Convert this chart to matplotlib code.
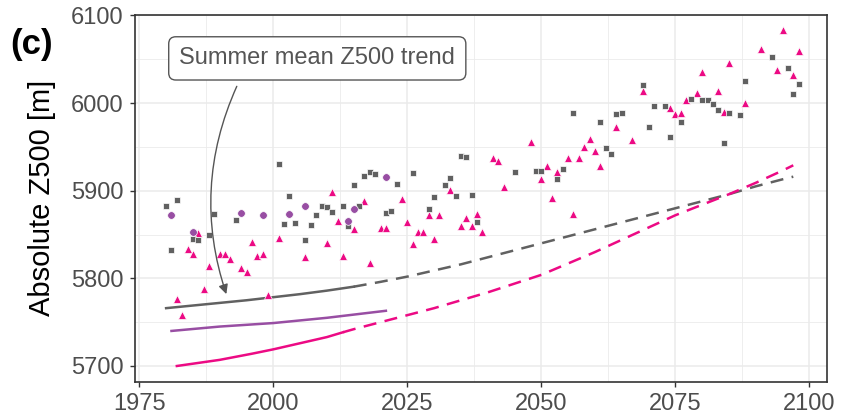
import matplotlib
matplotlib.use("Agg")
import matplotlib.pyplot as plt
from matplotlib.ticker import MultipleLocator

plt.rcParams["font.family"] = ["Liberation Sans", "DejaVu Sans"]

GREY = "#616161"
PINK = "#EC0A84"
PURPLE = "#984EA3"

# yearly summer mean Z500 (points)
grey_years = [1980, 1981, 1982, 1985, 1986, 1988, 1989, 1993, 2001, 2002, 2003,
              2004, 2006, 2007, 2008, 2009, 2010, 2011, 2013, 2014, 2015, 2016,
              2017, 2018, 2019, 2021, 2022, 2023, 2026, 2029, 2030, 2032, 2033,
              2034, 2035, 2036, 2037, 2038, 2045, 2049, 2050, 2053, 2054, 2056,
              2061, 2062, 2063, 2064, 2065, 2069, 2070, 2071, 2073, 2074, 2076,
              2078, 2080, 2081, 2082, 2083, 2084, 2085, 2087, 2088, 2093, 2096,
              2097, 2098]
grey_vals = [5883, 5832, 5889, 5845, 5844, 5850, 5873, 5867, 5930, 5862, 5894,
             5863, 5844, 5861, 5872, 5883, 5881, 5876, 5883, 5860, 5906, 5882,
             5917, 5921, 5919, 5875, 5877, 5908, 5920, 5879, 5893, 5906, 5915,
             5894, 5940, 5939, 5895, 5864, 5921, 5923, 5922, 5913, 5925, 5989,
             5978, 5949, 5942, 5987, 5989, 6021, 5973, 5997, 5997, 5961, 5978,
             6005, 6003, 6003, 5999, 5992, 5955, 5989, 5986, 6025, 6053, 6040,
             6010, 6022]

pink_years = [1982, 1983, 1984, 1985, 1986, 1987, 1988, 1990, 1991, 1992, 1994,
              1995, 1996, 1997, 1998, 1999, 2001, 2006, 2010, 2011, 2012, 2013,
              2015, 2017, 2018, 2020, 2021, 2024, 2025, 2026, 2027, 2028, 2029,
              2030, 2031, 2033, 2035, 2036, 2037, 2038, 2039, 2041, 2042, 2043,
              2048, 2050, 2051, 2052, 2053, 2055, 2056, 2057, 2058, 2059, 2060,
              2061, 2064, 2067, 2069, 2074, 2075, 2076, 2077, 2079, 2080, 2083,
              2084, 2085, 2088, 2091, 2094, 2095, 2097, 2098]
pink_vals = [5776, 5758, 5833, 5828, 5852, 5788, 5814, 5828, 5828, 5822, 5812,
             5807, 5842, 5825, 5828, 5781, 5846, 5824, 5840, 5899, 5866, 5825,
             5856, 5888, 5818, 5858, 5858, 5891, 5864, 5839, 5853, 5853, 5872,
             5845, 5872, 5901, 5860, 5869, 5860, 5873, 5853, 5937, 5934, 5904,
             5956, 5913, 5928, 5892, 5921, 5937, 5874, 5937, 5950, 5959, 5945,
             5928, 5973, 5958, 6014, 5994, 5988, 5989, 6003, 6011, 6036, 6014,
             5990, 6046, 6000, 6062, 6038, 6083, 6032, 6059]

purple_years = [1981, 1985, 1994, 1998, 2003, 2006, 2014, 2015, 2021]
purple_vals = [5872, 5853, 5875, 5872, 5873, 5882, 5865, 5879, 5916]

# smoothed trends (solid = period with data, dashed = projection)
grey_trend_years = [1980, 1985, 1990, 1995, 2000, 2005, 2010, 2015]
grey_trend_vals = [5766, 5769, 5772, 5775, 5778.5, 5782, 5786, 5790.5]
grey_proj_years = [2015, 2020, 2025, 2030, 2035, 2040, 2045, 2050, 2055, 2060,
                   2065, 2070, 2075, 2080, 2085, 2090, 2095, 2097]
grey_proj_vals = [5790.5, 5796, 5802, 5809, 5816, 5824, 5832, 5840, 5848, 5856,
                  5864, 5872, 5880, 5888, 5896, 5905, 5913, 5916]

purple_trend_years = [1981, 1990, 2000, 2010, 2021]
purple_trend_vals = [5740, 5745, 5749, 5755, 5763]

pink_trend_years = [1982, 1990, 1996, 2000, 2005, 2010, 2013]
pink_trend_vals = [5700, 5707, 5714, 5719, 5726, 5733, 5738.5]
pink_proj_years = [2013, 2015, 2020, 2025, 2030, 2035, 2040, 2045, 2050, 2055,
                   2060, 2065, 2070, 2075, 2080, 2085, 2090, 2095, 2097]
pink_proj_vals = [5738.5, 5742, 5750, 5758, 5766, 5775, 5784, 5794, 5804, 5817,
                  5830, 5844, 5858, 5872, 5884, 5896, 5909, 5923, 5929]

fig = plt.figure(figsize=(8.41, 4.18), dpi=100)
ax = fig.add_axes([0.161, 0.0873, 0.8224, 0.8768])

lw = 1.8
dash = (5.2, 3.4)
ax.plot(grey_trend_years, grey_trend_vals, color=GREY, lw=lw, zorder=2)
ax.plot(grey_proj_years, grey_proj_vals, color=GREY, lw=lw, dashes=dash, zorder=2)
ax.plot(purple_trend_years, purple_trend_vals, color=PURPLE, lw=lw, zorder=2)
ax.plot(pink_trend_years, pink_trend_vals, color=PINK, lw=lw, zorder=2)
ax.plot(pink_proj_years, pink_proj_vals, color=PINK, lw=lw, dashes=dash, zorder=2)

ax.plot(pink_years, pink_vals, ls="none", marker="^", ms=5.9, color=PINK,
        mec="white", mew=0.5, zorder=3)
ax.plot(grey_years, grey_vals, ls="none", marker="s", ms=5.0, color=GREY,
        mec="white", mew=0.5, zorder=4)
ax.plot(purple_years, purple_vals, ls="none", marker="o", ms=5.5, color=PURPLE,
        mec="white", mew=0.5, zorder=5)

ax.set_xlim(1974.27, 2103.3)
ax.set_ylim(5682.3, 6100.5)
ax.xaxis.set_major_locator(MultipleLocator(25))
ax.xaxis.set_minor_locator(MultipleLocator(12.5))
ax.yaxis.set_major_locator(MultipleLocator(100))
ax.yaxis.set_minor_locator(MultipleLocator(50))
ax.grid(which="major", color="#EBEBEB", lw=1.1)
ax.grid(which="minor", color="#EBEBEB", lw=0.6)
ax.set_axisbelow(True)
for s in ax.spines.values():
    s.set_color("#333333")
    s.set_linewidth(1.2)
ax.tick_params(which="major", length=3.6, width=1.0, color="#333333",
               labelsize=17, labelcolor="#4D4D4D", pad=5)
ax.tick_params(which="minor", length=0)
ax.set_ylabel("Absolute Z500 [m]", fontsize=21, labelpad=11)

fig.text(0.012, 0.87, "(c)", fontsize=25, fontweight="bold")

ax.text(2008.2, 6051, "Summer mean Z500 trend", fontsize=17, color="#555555",
        ha="center", va="center", zorder=6,
        bbox=dict(boxstyle="round,pad=0.45,rounding_size=0.3", fc="white",
                  ec="#555555", lw=1.0))
ax.annotate("", xy=(1991.4, 5779), xytext=(1993.4, 6022), zorder=6,
            arrowprops=dict(arrowstyle="-|>", color="#555555", lw=1.0,
                            mutation_scale=14,
                            connectionstyle="arc3,rad=0.2"))

fig.savefig("out.png", dpi=100)
